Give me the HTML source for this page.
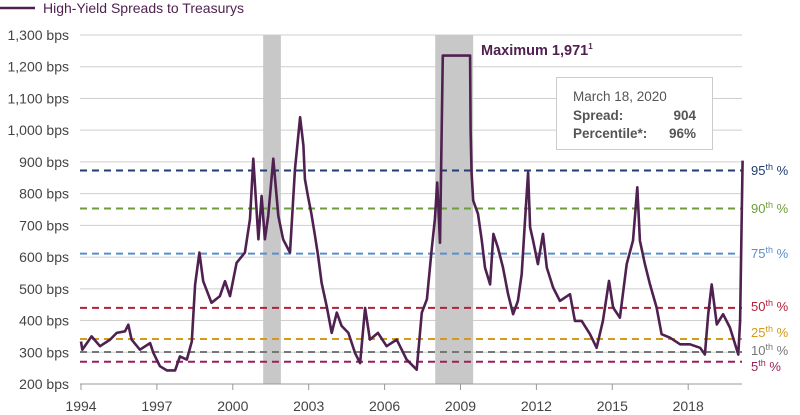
<!DOCTYPE html>
<html><head><meta charset="utf-8"><style>
html,body{margin:0;padding:0;background:#fff;width:800px;height:415px;overflow:hidden}
svg{display:block;font-family:"Liberation Sans",sans-serif}
</style></head><body>
<svg id="chart" width="800" height="415" viewBox="0 0 800 415">
<g id="grid"></g>
<g id="bands"></g>
<g id="pct"></g>
<g id="series"></g>
<g id="axes"></g>
<g>
<line x1="0" y1="8" x2="35" y2="8" stroke="#4f2150" stroke-width="2.5"/>
<text x="43" y="13" font-size="14" fill="#4f2150">High-Yield Spreads to Treasurys</text>
</g>
<text x="481" y="55" font-size="14.5" font-weight="bold" fill="#4f2150">Maximum 1,971<tspan font-size="8" dy="-6">1</tspan></text>
<g>
<rect x="556.5" y="77.5" width="156" height="72" fill="#fff" stroke="#ccc"/>
<text x="573" y="101" font-size="13.5" fill="#555">March 18, 2020</text>
<text x="573" y="120" font-size="13.5" font-weight="bold" fill="#555">Spread:</text>
<text x="696" y="120" font-size="13.5" font-weight="bold" fill="#555" text-anchor="end">904</text>
<text x="573" y="138" font-size="13.5" font-weight="bold" fill="#555">Percentile*:</text>
<text x="696" y="138" font-size="13.5" font-weight="bold" fill="#555" text-anchor="end">96%</text>
</g>
</svg>
<script>
const yTicks=[200,300,400,500,600,700,800,900,1000,1100,1200,1300];
const yTickLabels=["200 bps","300 bps","400 bps","500 bps","600 bps","700 bps","800 bps","900 bps","1,000 bps","1,100 bps","1,200 bps","1,300 bps"];
const xTicks=[1994,1997,2000,2003,2006,2009,2012,2015,2018];
const recessionStart=[2001.2,2008.0];
const recessionEnd=[2001.9,2009.5];
const pctNames=["95th","90th","75th","50th","25th","10th","5th"];
const pctValues=[873,753,611,440,342,301,270];
const pctColors=["#1f3d6e","#6e9e3c","#5b8fc9","#b3203a","#d49a1a","#777777","#9c1f5a"];
const years=[1994.0,1994.05,1994.42,1994.75,1995.15,1995.41,1995.74,1995.87,1996.0,1996.33,1996.73,1996.86,1997.12,1997.39,1997.72,1997.91,1998.18,1998.38,1998.51,1998.68,1998.83,1999.16,1999.49,1999.69,1999.89,2000.15,2000.48,2000.68,2000.81,2001.01,2001.14,2001.27,2001.4,2001.6,2001.8,2001.99,2002.26,2002.46,2002.66,2002.79,2002.85,2002.97,2003.1,2003.25,2003.37,2003.51,2003.71,2003.91,2004.11,2004.3,2004.57,2004.83,2005.03,2005.23,2005.42,2005.74,2006.08,2006.48,2006.87,2007.27,2007.47,2007.67,2007.86,2007.99,2008.08,2008.19,2008.3,2008.9,2009.38,2009.4,2009.44,2009.5,2009.69,2009.84,2009.97,2010.17,2010.3,2010.48,2010.68,2010.88,2011.08,2011.27,2011.42,2011.55,2011.67,2011.75,2011.87,2012.06,2012.26,2012.41,2012.66,2012.93,2013.33,2013.52,2013.79,2014.12,2014.38,2014.63,2014.87,2015.03,2015.3,2015.57,2015.82,2015.99,2016.09,2016.29,2016.49,2016.75,2016.95,2017.28,2017.68,2018.07,2018.47,2018.66,2018.79,2018.93,2019.13,2019.38,2019.65,2019.98,2020.05,2020.11,2020.15];
const spreads=[334,308,350,319,340,361,366,387,340,308,329,298,256,243,243,287,277,334,513,614,524,456,477,524,477,582,614,720,910,656,793,656,730,910,730,656,614,878,1041,952,846,793,740,667,604,519,445,361,425,383,361,298,266,440,340,361,319,340,277,245,425,467,625,720,835,645,1300,1971,1300,1000,863,778,736,652,567,514,673,630,567,483,420,462,546,715,867,694,652,578,673,567,504,462,483,399,399,357,314,399,525,441,409,578,652,820,652,578,514,441,357,346,325,325,314,293,420,514,388,420,378,293,399,704,904];
const X0=81,X1=742,Y0=384,Y1=35;
const xs=y=>X0+(y-1994)*25.3;
const ys=v=>Y0-(v-200)*(Y0-Y1)/1100;
const NS="http://www.w3.org/2000/svg";
function mk(tag,attrs,parent){const e=document.createElementNS(NS,tag);for(const k in attrs)e.setAttribute(k,attrs[k]);parent.appendChild(e);return e;}
const grid=document.getElementById('grid'),axes=document.getElementById('axes');
yTicks.forEach((t,i)=>{
 if(i>0){const l=mk('line',{x1:X0-1,x2:X1,y1:ys(t),y2:ys(t),stroke:'#cfcfcf','stroke-width':1},grid);
 
 }
 const tx=mk('text',{x:69,y:ys(t)+5,'font-size':14,fill:'#444','text-anchor':'end'},axes);
 tx.textContent=yTickLabels[i];
 
 
});
const ax=mk('line',{x1:X0-1,x2:X1,y1:Y0,y2:Y0,stroke:'#999','stroke-width':1},axes);


xTicks.forEach(t=>{
 const tk=mk('line',{x1:xs(t),x2:xs(t),y1:Y0,y2:Y0+6,stroke:'#999'},axes);
 
 
 const tx=mk('text',{x:xs(t),y:411,'font-size':14,fill:'#444','text-anchor':'middle'},axes);
 tx.textContent=t;
 
 
});
const bands=document.getElementById('bands');
recessionStart.forEach((s,i)=>{
 const r=mk('rect',{x:xs(s),y:Y1,width:xs(recessionEnd[i])-xs(s),height:Y0-Y1,fill:'#c8c8c8'},bands);
 
 
});
const pct=document.getElementById('pct');
const labelY=[175,213,258,311,337,355,371];
pctValues.forEach((v,i)=>{
 const l=mk('line',{x1:X0-1,x2:X1,y1:ys(v),y2:ys(v),stroke:pctColors[i],'stroke-width':2,'stroke-dasharray':'7,5'},pct);
 
 
 const t=mk('text',{x:751,y:labelY[i],'font-size':13,fill:pctColors[i]},pct);
 t.innerHTML=pctNames[i].slice(0,-2)+'<tspan font-size="9" dy="-5">'+pctNames[i].slice(-2)+'</tspan><tspan dy="5"> %</tspan>';
 
 
});
const cap=1235;
const d=years.map((yr,i)=>(i?'L':'M')+xs(yr).toFixed(1)+','+ys(Math.min(spreads[i],cap)).toFixed(1)).join(' ');
const p=mk('path',{d:d,fill:'none',stroke:'#4f2150','stroke-width':2.6,'stroke-linejoin':'round'},document.getElementById('series'));


</script>
</body></html>
